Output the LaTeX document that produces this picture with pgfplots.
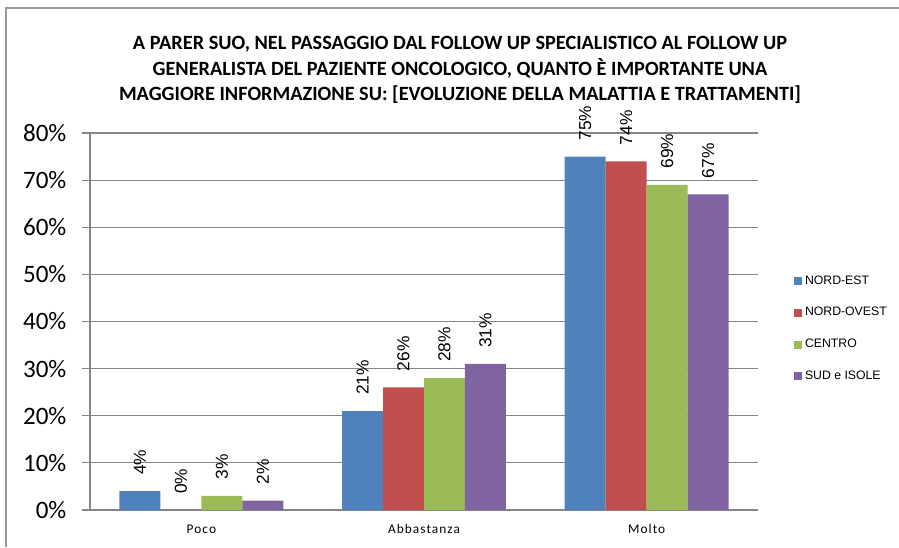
\documentclass[border=0pt]{standalone}
\usepackage{pgfplots}
\pgfplotsset{compat=1.18}
\usetikzlibrary{calc}
\usepackage{fontspec}
\setmainfont{Carlito}
\newfontfamily\lblfont{Liberation Sans}
\newfontfamily\catfont[LetterSpace=8]{Carlito}
\newfontfamily\legfont{Liberation Sans}

\definecolor{cEst}{HTML}{4F81BD}
\definecolor{cOvest}{HTML}{C0504D}
\definecolor{cCentro}{HTML}{9BBB59}
\definecolor{cSud}{HTML}{8064A2}
\definecolor{gridgray}{HTML}{868686}

\begin{document}
\begin{tikzpicture}[x=0.75pt,y=0.75pt]
  \begin{axis}[
    name=main,
    scale only axis,
    width=501pt, height=282.75pt,
    ybar=0pt, bar width=0.184,
    xmin=-0.5, xmax=2.5, ymin=0, ymax=80,
    ytick={0,10,...,80},
    yticklabel={\pgfmathprintnumber{\tick}\%},
    /pgf/number format/assume math mode=true,
    yticklabel style={font=\fontsize{18.8}{20}\selectfont, anchor=east, inner sep=0pt, xshift=-11.5pt},
    xtick={0,1,2},
    xticklabels={Poco,Abbastanza,Molto},
    xticklabel style={font=\catfont\fontsize{10}{11}\selectfont, anchor=center, yshift=-8.5pt},
    major x tick style={draw=none},
    axis lines*=left,
    axis line style={gridgray, line width=0.8pt},
    tick align=outside,
    major tick length=6pt,
    major tick style={gridgray, line width=0.8pt},
    ymajorgrids,
    grid style={gridgray, line width=0.8pt},
    nodes near coords={\pgfmathprintnumber{\pgfplotspointmeta}\%},
    every node near coord/.append style={font=\lblfont\fontsize{13}{14}\selectfont,
      rotate=90, anchor=west, inner ysep=0pt, inner xsep=12pt},
    sq/.style={draw=none, legend image code/.code={\fill[##1] (0pt,-3pt) rectangle (6pt,3pt);}},
    legend style={draw=none, fill=none, font=\legfont\fontsize{9.2}{11}\selectfont,
      at={(1.048,0.637)}, anchor=north west, row sep=12pt,
      /tikz/every even column/.append style={column sep=0pt}},
    legend cell align=left,
  ]
    \addplot[sq, fill=cEst] coordinates {(0,4) (1,21) (2,75)};
    \addplot[sq, fill=cOvest] coordinates {(0,0) (1,26) (2,74)};
    \addplot[sq, fill=cCentro] coordinates {(0,3) (1,28) (2,69)};
    \addplot[sq, fill=cSud] coordinates {(0,2) (1,31) (2,67)};
    \legend{NORD-EST,NORD-OVEST,CENTRO,SUD e ISOLE}
  \end{axis}
  \begin{scope}[shift={($(main.south west)+(-67.5pt,-27.75pt)$)}]
    \pgfresetboundingbox
    \useasboundingbox (0,0) rectangle (899,547);
    % frame of the chart (left and top edges visible)
    \draw[gray!80, line width=1.5pt] (6,0) -- (6,539) -- (899,539);
    % title
    \node[font=\fontsize{15.2}{19.3}\selectfont\bfseries, align=center] at (460,477)
      {A PARER SUO, NEL PASSAGGIO DAL FOLLOW UP SPECIALISTICO AL FOLLOW UP\\
       GENERALISTA DEL PAZIENTE ONCOLOGICO, QUANTO È IMPORTANTE UNA\\
       MAGGIORE INFORMAZIONE SU: [EVOLUZIONE DELLA MALATTIA E TRATTAMENTI]};
  \end{scope}
\end{tikzpicture}
\end{document}
